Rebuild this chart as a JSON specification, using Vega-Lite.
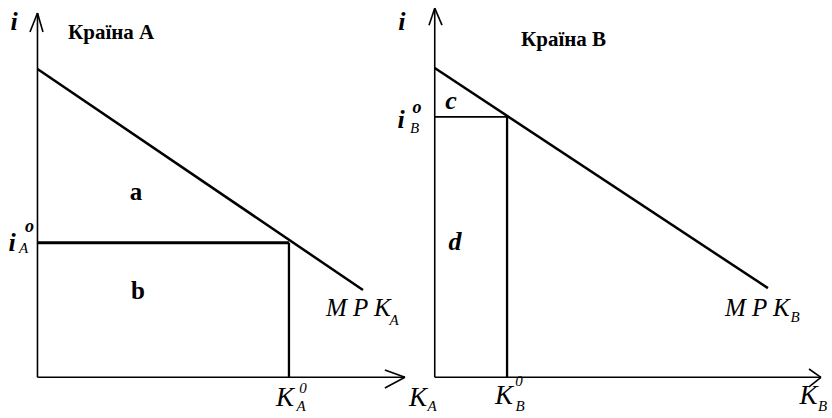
{
  "$schema": "https://vega.github.io/schema/vega-lite/v6.json",
  "padding": 0,
  "spacing": 0,
  "bounds": "flush",
  "background": "white",
  "config": {"view": {"stroke": null}, "text": {"font": "Liberation Serif", "color": "black"}},
  "datasets": {
    "segments": [
      {"panel": "A", "part": "axis", "x": 0, "y": 0, "x2": 0, "y2": 98.5},
      {"panel": "A", "part": "axis", "x": 0, "y": 98.5, "x2": -2.0, "y2": 93.35},
      {"panel": "A", "part": "axis", "x": 0, "y": 98.5, "x2": 1.47, "y2": 93.35},
      {"panel": "A", "part": "axis", "x": 0, "y": 0, "x2": 98.06, "y2": 0},
      {"panel": "A", "part": "axis", "x": 98.06, "y": 0, "x2": 92.7, "y2": 1.97},
      {"panel": "A", "part": "axis", "x": 98.06, "y": 0, "x2": 92.7, "y2": -2.89},
      {"panel": "A", "part": "curve", "x": 0, "y": 83.35, "x2": 86.85, "y2": 23.6},
      {"panel": "A", "part": "level", "x": 0, "y": 36.4, "x2": 67.1, "y2": 36.4},
      {"panel": "A", "part": "drop", "x": 67.1, "y": 0, "x2": 67.1, "y2": 36.4},
      {"panel": "B", "part": "axis", "x": 0, "y": 0, "x2": 0, "y2": 99.8},
      {"panel": "B", "part": "axis", "x": 0, "y": 99.8, "x2": -1.53, "y2": 95.2},
      {"panel": "B", "part": "axis", "x": 0, "y": 99.8, "x2": 1.94, "y2": 95.2},
      {"panel": "B", "part": "axis", "x": 0, "y": 0, "x2": 103.06, "y2": 0},
      {"panel": "B", "part": "axis", "x": 103.06, "y": 0, "x2": 99.86, "y2": 2.24},
      {"panel": "B", "part": "axis", "x": 103.06, "y": 0, "x2": 99.86, "y2": -2.6},
      {"panel": "B", "part": "curve", "x": 0, "y": 83.6, "x2": 88.9, "y2": 24.1},
      {"panel": "B", "part": "level", "x": 0, "y": 70.4, "x2": 19.3, "y2": 70.4},
      {"panel": "B", "part": "drop", "x": 19.3, "y": 0, "x2": 19.3, "y2": 70.4}
    ],
    "labels": [
      {"panel": "A", "role": "title", "label": "Країна А", "x": 8.14, "y": 93.08},
      {"panel": "A", "role": "symbol", "label": "i", "x": -6.26, "y": 96.05},
      {"panel": "A", "role": "region", "label": "a", "x": 26.29, "y": 50.09},
      {"panel": "A", "role": "region", "label": "b", "x": 26.82, "y": 23.33},
      {"panel": "A", "role": "symbol", "label": "i", "x": -6.8, "y": 36.3},
      {"panel": "A", "role": "sub", "label": "A", "x": -3.73, "y": 34.96},
      {"panel": "A", "role": "supo", "label": "o", "x": -2.13, "y": 40.63},
      {"panel": "A", "role": "mpk", "label": "M P K", "x": 76.98, "y": 18.87},
      {"panel": "A", "role": "sub", "label": "A", "x": 95.12, "y": 15.5},
      {"panel": "A", "role": "main", "label": "K", "x": 66.04, "y": -5.46},
      {"panel": "A", "role": "sub", "label": "A", "x": 70.31, "y": -7.89},
      {"panel": "A", "role": "sup", "label": "0", "x": 70.84, "y": -2.76},
      {"panel": "A", "role": "main", "label": "K", "x": 101.53, "y": -5.46},
      {"panel": "A", "role": "sub", "label": "A", "x": 105.26, "y": -7.89},
      {"panel": "B", "role": "title", "label": "Країна В", "x": 23.01, "y": 91.19},
      {"panel": "B", "role": "symbol", "label": "i", "x": -8.74, "y": 96.05},
      {"panel": "B", "role": "regionItalic", "label": "c", "x": 4.34, "y": 74.7},
      {"panel": "B", "role": "regionItalic", "label": "d", "x": 5.41, "y": 36.58},
      {"panel": "B", "role": "symbol", "label": "i", "x": -9.0, "y": 69.56},
      {"panel": "B", "role": "sub", "label": "B", "x": -5.4, "y": 67.4},
      {"panel": "B", "role": "supo", "label": "o", "x": -4.73, "y": 72.8},
      {"panel": "B", "role": "mpk", "label": "M P K", "x": 77.44, "y": 18.7},
      {"panel": "B", "role": "sub", "label": "B", "x": 96.12, "y": 16.3},
      {"panel": "B", "role": "main", "label": "K", "x": 18.48, "y": -5.06},
      {"panel": "B", "role": "sub", "label": "B", "x": 22.75, "y": -7.76},
      {"panel": "B", "role": "sup", "label": "0", "x": 22.48, "y": -1.0},
      {"panel": "B", "role": "main", "label": "K", "x": 99.72, "y": -5.06},
      {"panel": "B", "role": "sub", "label": "B", "x": 103.46, "y": -7.76}
    ]
  },
  "hconcat": [
    {
      "width": 416,
      "height": 418,
      "encoding": {
        "x": {"field": "x", "type": "quantitative", "scale": {"domain": [-10, 101], "nice": false, "zero": false}, "axis": null},
        "y": {"field": "y", "type": "quantitative", "scale": {"domain": [-11, 102], "nice": false, "zero": false}, "axis": null}
      },
      "layer": [
        {"data": {"name": "segments"}, "transform": [{"filter": "datum.panel === 'A' && datum.part === 'axis'"}], "mark": {"type": "rule", "color": "black", "strokeWidth": 1.6}, "encoding": {"x2": {"field": "x2"}, "y2": {"field": "y2"}}},
        {"data": {"name": "segments"}, "transform": [{"filter": "datum.panel === 'A' && datum.part === 'curve'"}], "mark": {"type": "rule", "color": "black", "strokeWidth": 2.5}, "encoding": {"x2": {"field": "x2"}, "y2": {"field": "y2"}}},
        {"data": {"name": "segments"}, "transform": [{"filter": "datum.panel === 'A' && datum.part === 'level'"}], "mark": {"type": "rule", "color": "black", "strokeWidth": 3}, "encoding": {"x2": {"field": "x2"}, "y2": {"field": "y2"}}},
        {"data": {"name": "segments"}, "transform": [{"filter": "datum.panel === 'A' && datum.part === 'drop'"}], "mark": {"type": "rule", "color": "black", "strokeWidth": 2.3}, "encoding": {"x2": {"field": "x2"}, "y2": {"field": "y2"}}},
        {"data": {"name": "labels"}, "transform": [{"filter": "datum.panel === 'A' && datum.role === 'title'"}], "mark": {"type": "text", "align": "left", "baseline": "middle", "fontWeight": "bold", "fontSize": 21}, "encoding": {"text": {"field": "label"}}},
        {"data": {"name": "labels"}, "transform": [{"filter": "datum.panel === 'A' && datum.role === 'region'"}], "mark": {"type": "text", "align": "center", "baseline": "middle", "fontWeight": "bold", "fontSize": 25}, "encoding": {"text": {"field": "label"}}},
        {"data": {"name": "labels"}, "transform": [{"filter": "datum.panel === 'A' && datum.role === 'symbol'"}], "mark": {"type": "text", "align": "center", "baseline": "middle", "fontWeight": "bold", "fontStyle": "italic", "fontSize": 26}, "encoding": {"text": {"field": "label"}}},
        {"data": {"name": "labels"}, "transform": [{"filter": "datum.panel === 'A' && datum.role === 'mpk'"}], "mark": {"type": "text", "align": "left", "baseline": "middle", "fontStyle": "italic", "fontSize": 25}, "encoding": {"text": {"field": "label"}}},
        {"data": {"name": "labels"}, "transform": [{"filter": "datum.panel === 'A' && datum.role === 'main'"}], "mark": {"type": "text", "align": "center", "baseline": "middle", "fontStyle": "italic", "fontSize": 27}, "encoding": {"text": {"field": "label"}}},
        {"data": {"name": "labels"}, "transform": [{"filter": "datum.panel === 'A' && datum.role === 'sub'"}], "mark": {"type": "text", "align": "center", "baseline": "middle", "fontStyle": "italic", "fontSize": 15}, "encoding": {"text": {"field": "label"}}},
        {"data": {"name": "labels"}, "transform": [{"filter": "datum.panel === 'A' && datum.role === 'sup'"}], "mark": {"type": "text", "align": "center", "baseline": "middle", "fontStyle": "italic", "fontSize": 15}, "encoding": {"text": {"field": "label"}}},
        {"data": {"name": "labels"}, "transform": [{"filter": "datum.panel === 'A' && datum.role === 'supo'"}], "mark": {"type": "text", "align": "center", "baseline": "middle", "fontWeight": "bold", "fontStyle": "italic", "fontSize": 18}, "encoding": {"text": {"field": "label"}}}
      ]
    },
    {
      "width": 416,
      "height": 418,
      "encoding": {
        "x": {"field": "x", "type": "quantitative", "scale": {"domain": [-5, 106], "nice": false, "zero": false}, "axis": null},
        "y": {"field": "y", "type": "quantitative", "scale": {"domain": [-11, 102], "nice": false, "zero": false}, "axis": null}
      },
      "layer": [
        {"data": {"name": "segments"}, "transform": [{"filter": "datum.panel === 'B' && datum.part === 'axis'"}], "mark": {"type": "rule", "color": "black", "strokeWidth": 1.6}, "encoding": {"x2": {"field": "x2"}, "y2": {"field": "y2"}}},
        {"data": {"name": "segments"}, "transform": [{"filter": "datum.panel === 'B' && datum.part === 'curve'"}], "mark": {"type": "rule", "color": "black", "strokeWidth": 2.5}, "encoding": {"x2": {"field": "x2"}, "y2": {"field": "y2"}}},
        {"data": {"name": "segments"}, "transform": [{"filter": "datum.panel === 'B' && datum.part === 'level'"}], "mark": {"type": "rule", "color": "black", "strokeWidth": 1.7}, "encoding": {"x2": {"field": "x2"}, "y2": {"field": "y2"}}},
        {"data": {"name": "segments"}, "transform": [{"filter": "datum.panel === 'B' && datum.part === 'drop'"}], "mark": {"type": "rule", "color": "black", "strokeWidth": 2.3}, "encoding": {"x2": {"field": "x2"}, "y2": {"field": "y2"}}},
        {"data": {"name": "labels"}, "transform": [{"filter": "datum.panel === 'B' && datum.role === 'title'"}], "mark": {"type": "text", "align": "left", "baseline": "middle", "fontWeight": "bold", "fontSize": 21}, "encoding": {"text": {"field": "label"}}},
        {"data": {"name": "labels"}, "transform": [{"filter": "datum.panel === 'B' && datum.role === 'regionItalic'"}], "mark": {"type": "text", "align": "center", "baseline": "middle", "fontWeight": "bold", "fontStyle": "italic", "fontSize": 26}, "encoding": {"text": {"field": "label"}}},
        {"data": {"name": "labels"}, "transform": [{"filter": "datum.panel === 'B' && datum.role === 'symbol'"}], "mark": {"type": "text", "align": "center", "baseline": "middle", "fontWeight": "bold", "fontStyle": "italic", "fontSize": 26}, "encoding": {"text": {"field": "label"}}},
        {"data": {"name": "labels"}, "transform": [{"filter": "datum.panel === 'B' && datum.role === 'mpk'"}], "mark": {"type": "text", "align": "left", "baseline": "middle", "fontStyle": "italic", "fontSize": 25}, "encoding": {"text": {"field": "label"}}},
        {"data": {"name": "labels"}, "transform": [{"filter": "datum.panel === 'B' && datum.role === 'main'"}], "mark": {"type": "text", "align": "center", "baseline": "middle", "fontStyle": "italic", "fontSize": 27}, "encoding": {"text": {"field": "label"}}},
        {"data": {"name": "labels"}, "transform": [{"filter": "datum.panel === 'B' && datum.role === 'sub'"}], "mark": {"type": "text", "align": "center", "baseline": "middle", "fontStyle": "italic", "fontSize": 15}, "encoding": {"text": {"field": "label"}}},
        {"data": {"name": "labels"}, "transform": [{"filter": "datum.panel === 'B' && datum.role === 'sup'"}], "mark": {"type": "text", "align": "center", "baseline": "middle", "fontStyle": "italic", "fontSize": 15}, "encoding": {"text": {"field": "label"}}},
        {"data": {"name": "labels"}, "transform": [{"filter": "datum.panel === 'B' && datum.role === 'supo'"}], "mark": {"type": "text", "align": "center", "baseline": "middle", "fontWeight": "bold", "fontStyle": "italic", "fontSize": 18}, "encoding": {"text": {"field": "label"}}}
      ]
    }
  ]
}
